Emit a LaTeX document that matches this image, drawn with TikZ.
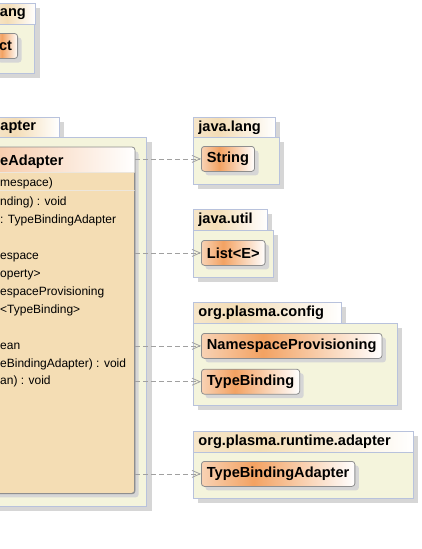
\documentclass[tikz,border=0pt]{standalone}
\usepackage{fontspec}
\setmainfont{Liberation Sans}
\usepackage{tikz}
\usetikzlibrary{positioning, shadows, arrows.meta}

\definecolor{pkgline}{HTML}{B8C2DC}
\definecolor{pkgfill}{HTML}{F4F4DC}
\definecolor{shadowgray}{HTML}{D6D6D6}
\definecolor{clsline}{HTML}{8E8E8E}
\definecolor{clsfill}{HTML}{F4DDB4}
\definecolor{clsleft}{HTML}{F8D2B4}
\definecolor{clsmid}{HTML}{F3A262}
\definecolor{tableft}{HTML}{F6E6CA}
\definecolor{tabmid}{HTML}{F4DDB6}
\definecolor{hdrleft}{HTML}{F6C6A2}
\definecolor{sepline}{HTML}{ECE6DC}
\definecolor{depline}{HTML}{A0A0A0}

\pgfdeclarehorizontalshading{classshade}{100bp}{color(0bp)=(clsleft); color(25bp)=(clsleft); color(42bp)=(clsmid); color(75bp)=(white); color(100bp)=(white)}
\pgfdeclarehorizontalshading{tabshade}{100bp}{color(0bp)=(tableft); color(25bp)=(tableft); color(40bp)=(tabmid); color(75bp)=(white); color(100bp)=(white)}
\pgfdeclarehorizontalshading{headshade}{100bp}{color(0bp)=(hdrleft); color(25bp)=(hdrleft); color(75bp)=(white); color(100bp)=(white)}

\newcommand{\namefont}{\fontsize{14.6}{16}\selectfont\bfseries}
\newcommand{\rowfont}{\fontsize{12}{14}\selectfont}

\begin{document}
\begin{tikzpicture}[x=1pt, y=-1pt,
  pkg tab/.style={draw=pkgline, line width=0.8pt, shade, shading=tabshade, anchor=north west,
    inner sep=0pt, inner xsep=5pt, minimum height=20.5pt, align=left, font=\namefont,
    general shadow={fill=shadowgray, shadow xshift=5pt, shadow yshift=-5pt}},
  pkg body/.style={draw=pkgline, line width=0.8pt, fill=pkgfill, anchor=north west, inner sep=0pt,
    general shadow={fill=shadowgray, shadow xshift=5pt, shadow yshift=-5pt}},
  class node/.style={draw=clsline, line width=0.8pt, rounded corners=3pt, shade, shading=classshade,
    inner sep=0pt, inner xsep=5.5pt, minimum height=25pt, font=\namefont,
    general shadow={fill=shadowgray, shadow xshift=4pt, shadow yshift=-4pt}},
  big class/.style={draw=clsline, line width=0.8pt, rounded corners=3pt, fill=clsfill, inner sep=0pt,
    general shadow={fill=shadowgray, shadow xshift=4pt, shadow yshift=-4pt}},
  row node/.style={font=\rowfont, inner sep=0pt, anchor=base west},
  dep line/.style={draw=depline, line width=0.8pt, dash pattern=on 5pt off 3pt,
    -{Straight Barb[length=8pt, width=7pt]}}]

\useasboundingbox (0,0) rectangle (421,549);

% packages on the left, cut by the edge
\node[pkg tab, text width=30.5pt] (tabA) at (-5.5,3) {ang};
\node[pkg body, anchor=north east, minimum width=95pt, minimum height=49pt] (bodyA) at (35,24) {};
\node[class node, anchor=east] (objA) at (18,46) {ct};

\node[pkg tab, text width=53.7pt] (tabB) at (-5,117) {apter};
\node[pkg body, anchor=north east, minimum width=207pt, minimum height=369pt] (bodyB) at (147,137) {};
\node[big class, anchor=north east, minimum width=155pt, minimum height=346pt] (clsB) at (135,147) {};

\begin{scope}
\clip (clsB.north west) rectangle (136,171);
\path[shade, shading=headshade, rounded corners=3pt] (clsB.north west) rectangle (clsB.south east);
\end{scope}
\draw[sepline, line width=1pt] (clsB.west |- 0,172) -- (clsB.east |- 0,172);
\draw[sepline, line width=1pt] (clsB.west |- 0,190) -- (clsB.east |- 0,190);
\draw[clsline, line width=0.8pt, rounded corners=3pt] (clsB.north west) rectangle (clsB.south east);

\node[row node, font=\namefont] (hdB) at (0,165) {eAdapter};
\node[row node] (r1) at (0,186) {mespace)};
\node[row node] (r2) at (0,205) {nding) : void};
\node[row node] (r3) at (0,223) {: TypeBindingAdapter};
\node[row node] (r4) at (0,259) {espace};
\node[row node] (r5) at (0,277) {operty>};
\node[row node] (r6) at (0,295) {espaceProvisioning};
\node[row node] (r7) at (0,313) {<TypeBinding>};
\node[row node] (r8) at (0,349) {ean};
\node[row node] (r9) at (0,367) {eBindingAdapter) : void};
\node[row node] (r10) at (0,384) {an) : void};

% packages on the right
\node[pkg tab, text width=72pt] (tabL) at (193,117) {java.lang};
\node[pkg body, minimum width=86pt, minimum height=47pt] (bodyL) at (193,137) {};
\node[class node, below right=9pt and 8pt of bodyL.north west] (str) {String};

\node[pkg tab, text width=64pt] (tabU) at (193,209) {java.util};
\node[pkg body, minimum width=80pt, minimum height=47pt] (bodyU) at (193,230) {};
\node[class node, below right=10pt and 8pt of bodyU.north west] (lst) {List<E>};

\node[pkg tab, text width=138pt] (tabC) at (193,302) {org.plasma.config};
\node[pkg body, minimum width=204pt, minimum height=82pt] (bodyC) at (193,323) {};
\node[class node, below right=10pt and 8pt of bodyC.north west] (nsp) {NamespaceProvisioning};
\node[class node, below right=10pt and 0pt of nsp.south west] (tb) {TypeBinding};

\node[pkg tab, text width=210pt] (tabR) at (193,431) {org.plasma.runtime.adapter};
\node[pkg body, minimum width=220pt, minimum height=46pt] (bodyR) at (193,452) {};
\node[class node, below right=9pt and 8pt of bodyR.north west] (tba) {TypeBindingAdapter};

\path (clsB.east |- str.west) edge[dep line] (str.west)
      (clsB.east |- lst.west) edge[dep line] (lst.west)
      (clsB.east |- nsp.west) edge[dep line] (nsp.west)
      (clsB.east |- tb.west) edge[dep line] (tb.west)
      (clsB.east |- tba.west) edge[dep line] (tba.west);

\end{tikzpicture}
\end{document}
